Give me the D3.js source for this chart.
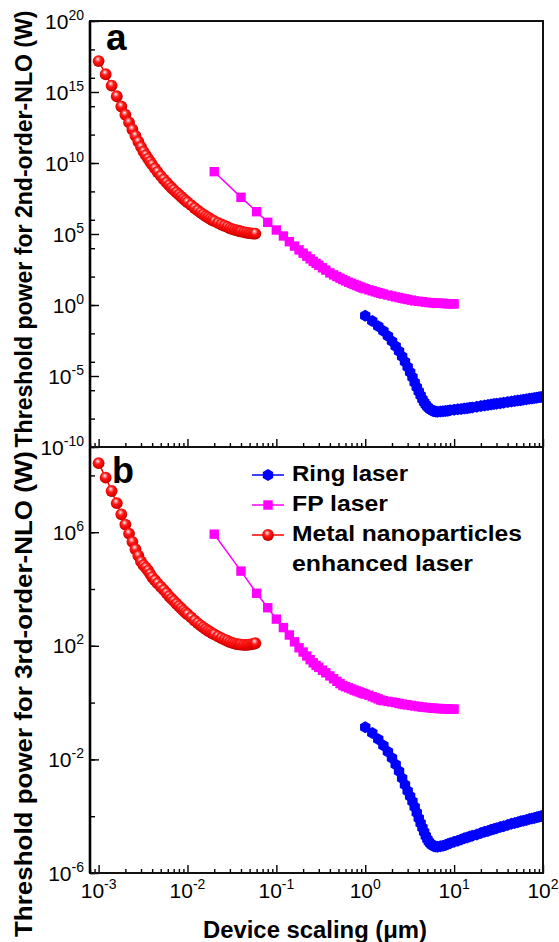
<!DOCTYPE html>
<html><head><meta charset="utf-8">
<script src="https://cdn.jsdelivr.net/npm/d3@7"></script>
<style>
body{margin:0;background:#fff;}
svg{display:block;font-family:"Liberation Sans",Arial,Helvetica,sans-serif;}
</style></head><body>
<svg id="chart" width="559" height="942"></svg>
<script>
// ---------------- data ----------------
const ringX = [1,1.2,1.4,1.6,1.8,2,2.2,2.4,2.6,2.8,3,3.2,3.4,3.6,3.8,4,4.2,4.4,4.6,4.8,5,5.2,5.4,5.6,5.8,6,6.2,6.5,7,7.5,8,8.5,9,10,11,12,13,14,15,16,18,20,22,24,26,28,30,33,36,40,44,48,52,56,60,65,70,75,80,85,90,95,100];
const ringA = [1.78e-1,7.41e-2,3.24e-2,1.48e-2,6.61e-3,2.82e-3,1.26e-3,5.62e-4,2.40e-4,1.02e-4,4.37e-5,1.86e-5,8.13e-6,3.55e-6,1.62e-6,7.94e-7,4.17e-7,2.34e-7,1.41e-7,9.33e-8,6.76e-8,5.25e-8,4.37e-8,3.80e-8,3.47e-8,3.24e-8,3.16e-8,3.09e-8,3.16e-8,3.31e-8,3.47e-8,3.63e-8,3.80e-8,4.17e-8,4.47e-8,4.79e-8,5.13e-8,5.37e-8,5.75e-8,6.17e-8,6.92e-8,7.59e-8,8.32e-8,9.12e-8,9.77e-8,1.05e-7,1.10e-7,1.20e-7,1.32e-7,1.45e-7,1.58e-7,1.74e-7,1.86e-7,2.00e-7,2.14e-7,2.29e-7,2.45e-7,2.63e-7,2.82e-7,2.95e-7,3.16e-7,3.31e-7,3.47e-7];
const ringB = [1.35e-1,8.51e-2,5.13e-2,3.09e-2,1.86e-2,1.12e-2,6.61e-3,3.80e-3,2.19e-3,1.29e-3,7.76e-4,5.01e-4,3.31e-4,2.09e-4,1.32e-4,8.51e-5,5.62e-5,3.89e-5,2.75e-5,2.00e-5,1.55e-5,1.26e-5,1.10e-5,9.77e-6,9.12e-6,8.71e-6,8.51e-6,8.32e-6,8.71e-6,9.12e-6,9.77e-6,1.05e-5,1.12e-5,1.26e-5,1.38e-5,1.51e-5,1.66e-5,1.78e-5,1.91e-5,2.04e-5,2.29e-5,2.57e-5,2.82e-5,3.02e-5,3.31e-5,3.55e-5,3.80e-5,4.17e-5,4.47e-5,4.90e-5,5.37e-5,5.75e-5,6.17e-5,6.61e-5,6.92e-5,7.41e-5,7.94e-5,8.32e-5,8.71e-5,9.12e-5,9.55e-5,1.00e-4,1.05e-4];

const fpX = [0.02,0.04,0.06,0.08,0.10,0.12,0.14,0.16,0.18,0.20,0.22,0.24,0.26,0.28,0.30,0.33,0.36,0.40,0.44,0.48,0.52,0.56,0.60,0.65,0.70,0.75,0.80,0.85,0.90,0.95,1.0,1.1,1.2,1.3,1.4,1.5,1.6,1.8,2.0,2.2,2.4,2.6,2.8,3.0,3.3,3.6,4.0,4.4,4.8,5.2,5.6,6.0,6.5,7.0,7.5,8.0,8.5,9.0,9.5,10];
const fpA = [2.45e9,3.80e7,3.72e6,6.61e5,1.91e5,7.24e4,2.88e4,1.41e4,7.59e3,4.47e3,2.75e3,1.78e3,1.17e3,8.51e2,6.31e2,4.17e2,2.88e2,1.82e2,1.32e2,1.00e2,7.76e1,6.17e1,5.01e1,3.98e1,3.31e1,2.82e1,2.40e1,2.04e1,1.78e1,1.55e1,14.1,11.7,10.0,8.51,7.41,6.61,5.89,5.01,4.27,3.72,3.31,2.95,2.69,2.45,2.19,1.95,1.82,1.70,1.58,1.48,1.45,1.38,1.35,1.32,1.29,1.26,1.23,1.23,1.20,1.20];
const fpB = [8.51e5,4.27e4,7.08e3,2.19e3,8.71e2,4.37e2,2.40e2,1.38e2,85.1,60.3,43.7,32.4,25.1,20.4,17.4,13.8,11.2,8.71,6.92,5.62,4.68,3.98,3.63,3.31,3.02,2.75,2.57,2.40,2.24,2.09,2.00,1.82,1.62,1.48,1.35,1.23,1.17,1.10,1.05,1.00,0.933,0.891,0.851,0.832,0.794,0.759,0.724,0.692,0.676,0.661,0.646,0.631,0.617,0.617,0.603,0.603,0.589,0.589,0.589,0.589];

const metalX = [0.0010,0.0012,0.0014,0.0016,0.0018,0.0020,0.0022,0.0024,0.0026,0.0028,0.0030,0.0032,0.0034,0.0036,0.0038,0.0040,0.0043,0.0046,0.0050,0.0054,0.0058,0.0062,0.0066,0.0070,0.0075,0.0080,0.0085,0.0090,0.0095,0.010,0.011,0.012,0.013,0.014,0.015,0.016,0.017,0.018,0.019,0.020,0.022,0.024,0.026,0.028,0.030,0.032,0.034,0.036,0.038,0.040,0.043,0.046,0.049,0.052,0.055,0.058];
const metalA = [1.51e17,1.78e16,2.82e15,5.01e14,9.55e13,2.51e13,7.24e12,2.29e12,8.13e11,3.16e11,1.35e11,6.31e10,3.55e10,2.04e10,1.23e10,7.76e9,4.17e9,2.34e9,1.23e9,7.08e8,4.27e8,2.75e8,1.82e8,1.29e8,8.51e7,5.89e7,4.17e7,3.02e7,2.24e7,1.70e7,1.07e7,6.76e6,4.57e6,3.24e6,2.40e6,1.82e6,1.45e6,1.17e6,9.55e5,8.13e5,6.03e5,4.68e5,3.80e5,3.16e5,2.51e5,2.19e5,1.95e5,1.78e5,1.62e5,1.51e5,1.35e5,1.23e5,1.15e5,1.10e5,1.07e5,1.07e5];
const metalB = [2.69e8,8.32e7,2.82e7,1.05e7,4.27e6,1.86e6,8.91e5,4.57e5,2.51e5,1.48e5,9.33e4,6.92e4,5.62e4,4.47e4,3.39e4,2.63e4,2.04e4,1.58e4,1.20e4,9.33e3,7.24e3,5.62e3,4.57e3,3.80e3,3.02e3,2.51e3,2.09e3,1.74e3,1.48e3,1.29e3,1.00e3,7.76e2,6.31e2,5.25e2,4.47e2,3.89e2,3.39e2,3.09e2,2.75e2,2.51e2,2.14e2,1.86e2,1.66e2,1.51e2,1.35e2,1.26e2,1.20e2,1.15e2,1.12e2,1.10e2,1.07e2,1.07e2,1.10e2,1.12e2,1.17e2,1.23e2];

const xTickValues = [1e-3,1e-2,1e-1,1,10,100];
const yTicksA = [1e-10,1e-5,1,1e5,1e10,1e15,1e20];
const yTicksB = [1e-6,1e-2,1e2,1e6];
const seriesNames = ["Ring laser","FP laser","Metal nanoparticles","enhanced laser"];
const panelLetters = ["a","b"];
const xTitle = "Device scaling (\u03bcm)";
const yTitles = ["Threshold power for 2nd-order-NLO (W)","Threshold power for 3rd-order-NLO (W)"];

// ---------------- layout ----------------
const svg = d3.select("#chart");
const L = 90, R = 543;
const x = d3.scaleLog().domain([8e-4, 100]).range([L, R]);
const panels = [
  {top:21,  bottom:447, domain:[1e-10,1e20], labels:yTicksA, ring:ringA, fp:fpA, metal:metalA, letter:panelLetters[0], lx:106, ly:50, lsize:37, title:yTitles[0], tcy:229, tlen:437},
  {top:447, bottom:873, domain:[1e-6,1e9],   labels:yTicksB, ring:ringB, fp:fpB, metal:metalB, letter:panelLetters[1], lx:112, ly:483, lsize:36, title:yTitles[1], tcy:694, tlen:486}
];

const defs = svg.append("defs");
const grad = defs.append("radialGradient").attr("id","ball").attr("cx","45%").attr("cy","40%").attr("r","60%").attr("fx","42%").attr("fy","32%");
[[0,"#ffffff"],[0.16,"#ff9a9a"],[0.42,"#ff1a1a"],[0.8,"#e60000"],[1,"#b00000"]].forEach(s=>grad.append("stop").attr("offset",s[0]).attr("stop-color",s[1]));

const colors = {ring:"#0000ff", fp:"#ff00ff", metal:"#ff0000"};
function hexPath(r){const p=[];for(let i=0;i<6;i++){const a=Math.PI/3*i+Math.PI/6;p.push([r*Math.cos(a),r*Math.sin(a)]);}return "M"+p.map(d=>d[0].toFixed(2)+","+d[1].toFixed(2)).join("L")+"Z";}
function marker(g, kind, cx, cy){
  if(kind==="ring") g.append("path").attr("d",hexPath(6)).attr("transform",`translate(${cx},${cy})`).attr("fill",colors.ring);
  else if(kind==="fp") g.append("rect").attr("x",cx-4.7).attr("y",cy-4.7).attr("width",9.4).attr("height",9.4).attr("fill",colors.fp);
  else g.append("circle").attr("cx",cx).attr("cy",cy).attr("r",5.9).attr("fill","url(#ball)");
}
function powLabel(g, v, px, py, anchor){
  const e = Math.round(Math.log10(v));
  const t = g.append("text").attr("x",px).attr("y",py).attr("text-anchor",anchor).attr("font-size",21).attr("fill","#000");
  t.append("tspan").text("10");
  t.append("tspan").attr("dy",-9).attr("font-size",14).text(String(e));
}

panels.forEach((p,pi)=>{
  const y = d3.scaleLog().domain(p.domain).range([p.bottom, p.top]);
  const g = svg.append("g");
  const cid = "clip"+pi;
  defs.append("clipPath").attr("id",cid).append("rect").attr("x",L).attr("y",p.top).attr("width",R-L).attr("height",p.bottom-p.top);

  // axes ticks (inward)
  const decadesY = y.ticks().filter(v=>Math.abs(Math.log10(v)-Math.round(Math.log10(v)))<1e-9);
  const minorY = y.ticks().filter(v=>!decadesY.includes(v));
  const axL = g.append("g").attr("transform",`translate(${L},0)`);
  axL.append("g").call(d3.axisLeft(y).tickValues(minorY).tickSize(-3).tickFormat(""));
  axL.append("g").call(d3.axisLeft(y).tickValues(decadesY).tickSize(-5).tickFormat(""));
  axL.append("g").call(d3.axisLeft(y).tickValues(p.labels).tickSize(-9).tickFormat(""));
  const xt = x.ticks();
  const xMinor = xt.filter(v=>!xTickValues.some(m=>Math.abs(m-v)/m<1e-9));
  const axB = g.append("g").attr("transform",`translate(0,${p.bottom})`);
  axB.append("g").call(d3.axisBottom(x).tickValues(xMinor).tickSize(-4).tickFormat(""));
  axB.append("g").call(d3.axisBottom(x).tickValues(xTickValues).tickSize(-8).tickFormat(""));
  g.selectAll(".domain").remove();
  g.selectAll(".tick line").attr("stroke","#000").attr("stroke-width",1.4);

  // y tick labels
  p.labels.forEach(v=>powLabel(g, v, 84, y(v)+7.5, "end"));

  // series
  const sg = g.append("g").attr("clip-path",`url(#${cid})`);
  [["ring",ringX,p.ring],["fp",fpX,p.fp],["metal",metalX,p.metal]].forEach(([kind,xs,ys])=>{
    const pts = xs.map((v,i)=>[x(v), y(ys[i])]);
    sg.append("path").attr("d",d3.line()(pts)).attr("fill","none").attr("stroke",colors[kind]).attr("stroke-width",1.5);
    const mg = sg.append("g");
    pts.forEach(d=>marker(mg, kind, d[0], d[1]));
  });

  // frame
  g.append("rect").attr("x",L).attr("y",p.top).attr("width",R-L).attr("height",p.bottom-p.top).attr("fill","none").attr("stroke","#111").attr("stroke-width",2);
  g.append("line").attr("x1",L).attr("x2",L).attr("y1",p.top).attr("y2",p.bottom).attr("stroke","#000").attr("stroke-width",2.6);

  // panel letter
  g.append("text").attr("x",p.lx).attr("y",p.ly).attr("font-size",p.lsize).attr("font-weight","bold").text(p.letter);

  // y title
  g.append("text").attr("transform",`translate(32,${p.tcy}) rotate(-90)`).attr("text-anchor","middle")
    .attr("font-size",23).attr("font-weight","bold")
    .attr("textLength",p.tlen).attr("lengthAdjust","spacingAndGlyphs").text(p.title);
});

// x tick labels (bottom panel only)
const xl = svg.append("g");
xTickValues.forEach(v=>powLabel(xl, v, x(v), 898, "middle"));
svg.append("text").attr("x",315).attr("y",938).attr("text-anchor","middle").attr("font-size",23).attr("font-weight","bold")
  .attr("textLength",224).attr("lengthAdjust","spacingAndGlyphs").text(xTitle);

// legend (panel b)
const leg = svg.append("g");
const legRows = [["ring",481,seriesNames[0],116],["fp",511,seriesNames[1],96],["metal",541,seriesNames[2],230]];
legRows.forEach(([kind,by,label,w])=>{
  const cy = by-6;
  leg.append("line").attr("x1",252).attr("x2",284).attr("y1",cy).attr("y2",cy).attr("stroke",colors[kind]).attr("stroke-width",1.5);
  marker(leg, kind, 268, cy);
  leg.append("text").attr("x",292).attr("y",by).attr("font-size",22.5).attr("font-weight","bold")
    .attr("textLength",w).attr("lengthAdjust","spacingAndGlyphs").text(label);
});
leg.append("text").attr("x",292).attr("y",571).attr("font-size",22.5).attr("font-weight","bold")
  .attr("textLength",181).attr("lengthAdjust","spacingAndGlyphs").text(seriesNames[3]);
</script>
</body></html>
